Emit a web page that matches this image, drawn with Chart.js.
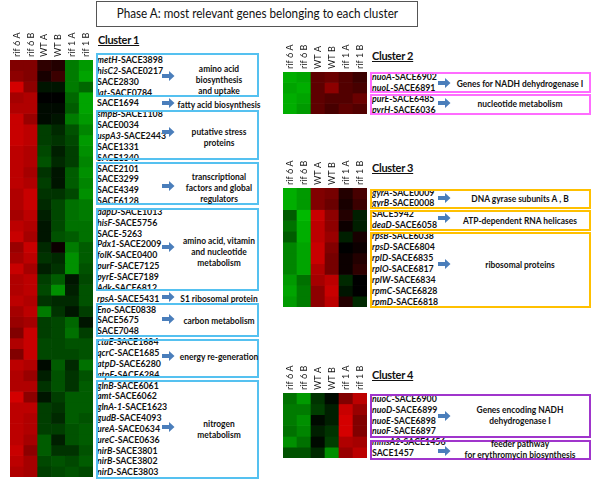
<!DOCTYPE html>
<html>
<head>
<meta charset="utf-8">
<script src="https://cdn.jsdelivr.net/npm/chart.js@4.4.0/dist/chart.umd.min.js"></script>
<style>
  body { margin: 0; width: 600px; height: 485px; position: relative; background: #fff; overflow: hidden;
         font-family: Lato, 'Open Sans', sans-serif; color: #111; }
  canvas { position: absolute; }
  .title { position: absolute; left: 96px; top: 1px; width: 322px; height: 26px; box-sizing: border-box;
           border: 1.5px solid #555; font-size: 13px; text-align: center; line-height: 23px; }
  .title span { display: inline-block; transform: scaleX(0.9); }
  .clu { position: absolute; font-size: 11px; font-weight: 700; text-decoration: underline; letter-spacing: -0.3px;
         line-height: 12px; white-space: nowrap; }
  .box { position: absolute; box-sizing: border-box; border: 2px solid; }
  .gene { position: absolute; font-size: 10px; font-weight: 700; line-height: 11px; white-space: nowrap;
          transform: scaleX(0.88); transform-origin: 0 50%; }
  .cat { position: absolute; font-size: 10px; font-weight: 700; line-height: 11px; white-space: nowrap; text-align: center;
         transform: translate(-50%, -50%) scaleX(0.84); }
  .arrow { position: absolute; }
</style>
</head>
<body>
<div class="title"><span>Phase A: most relevant genes belonging to each cluster</span></div>
<canvas id="heat1" width="83" height="449" style="left:10px;top:28px"></canvas>
<canvas id="heat2" width="84" height="74" style="left:283px;top:40px"></canvas>
<canvas id="heat3" width="84" height="151" style="left:283px;top:156px"></canvas>
<canvas id="heat4" width="84" height="97" style="left:283px;top:361px"></canvas>
<div id="notes"></div>
<script>
// samples (heatmap columns)
const samples = ['rif 6 A', 'rif 6 B', 'WT A', 'WT B', 'rif 1 A', 'rif 1 B'];

// Cluster 1
const genes1 = ['metH-SACE3898', 'hisC2-SACE0217', 'SACE2830', 'lat-SACE0784', 'SACE1694',
  'smpB-SACE1108', 'SACE0034', 'uspA3-SACE2443', 'SACE1331', 'SACE1340',
  'SACE2101', 'SACE3299', 'SACE4349', 'SACE6128',
  'dapD-SACE1013', 'hisF-SACE5756', 'SACE-5263', 'Pdx1-SACE2009', 'folK-SACE0400', 'purF-SACE7125', 'pyrE-SACE7189', 'Adk-SACE6812',
  'rpsA-SACE5431', 'Eno-SACE0838', 'SACE5675', 'SACE7048',
  'ctaE-SACE1684', 'qcrC-SACE1685', 'atpD-SACE6280', 'atpF-SACE6284',
  'glnB-SACE6061', 'amt-SACE6062', 'glnA-1-SACE1623', 'gudB-SACE4093', 'ureA-SACE0634', 'ureC-SACE0636',
  'nirB-SACE3801', 'nirB-SACE3802', 'nirD-SACE3803'];
const values1 = [
  [0.55, 0.55, 0.2, 0.15, -0.6, -0.75],
  [0.6, 0.55, 0.1, 0.25, -0.6, -0.8],
  [0.9, 0.6, -0.1, -0.1, -0.6, -0.5],
  [0.7, 0.75, 0, 0, -0.5, -0.8],
  [0.75, 0.75, -0.05, -0.05, -0.45, -0.8],
  [0.85, 0.65, -0.05, -0.1, -0.6, -0.75],
  [0.85, 0.8, -0.3, -0.2, -0.4, -0.65],
  [0.85, 0.8, -0.3, -0.25, -0.35, -0.75],
  [0.8, 0.75, -0.35, -0.15, -0.3, -0.7],
  [0.8, 0.75, -0.4, -0.2, -0.3, -0.65],
  [0.8, 0.7, -0.25, -0.1, -0.45, -0.7],
  [0.8, 0.75, -0.3, -0.1, -0.45, -0.65],
  [0.75, 0.85, -0.25, -0.25, -0.35, -0.7],
  [0.75, 0.85, -0.2, -0.35, -0.55, -0.6],
  [0.7, 0.8, -0.15, -0.35, -0.55, -0.6],
  [0.8, 0.75, -0.1, -0.35, -0.55, -0.55],
  [0.85, 0.7, -0.1, -0.4, -0.45, -0.55],
  [0.65, 0.85, -0.2, 0.05, -0.6, -0.45],
  [0.7, 0.8, -0.25, -0.2, -0.7, -0.45],
  [0.85, 0.7, -0.15, -0.25, -0.7, -0.4],
  [0.75, 0.8, -0.3, -0.45, -0.1, -0.35],
  [0.75, 0.8, -0.35, -0.7, -0.15, -0.4],
  [0.8, 0.75, -0.25, -0.2, -0.2, -0.4],
  [0.7, 0.8, -0.6, -0.25, -0.1, -0.3],
  [0.65, 0.7, -0.3, -0.35, -0.5, -0.1],
  [0.55, 0.85, -0.3, -0.35, -0.55, -0.3],
  [0.75, 0.85, -0.35, -0.35, -0.4, -0.4],
  [0.55, 0.85, -0.35, -0.35, -0.35, -0.4],
  [0.8, 0.75, -0.05, -0.45, -0.2, -0.55],
  [0.75, 0.65, -0.15, -0.4, -0.25, -0.4],
  [0.75, 0.75, -0.25, -0.4, -0.25, -0.45],
  [0.9, 0.6, -0.1, -0.3, -0.45, -0.45],
  [0.8, 0.8, -0.3, -0.25, -0.45, -0.45],
  [0.8, 0.75, -0.3, -0.2, -0.45, -0.4],
  [0.8, 0.75, -0.3, -0.3, -0.4, -0.45],
  [0.8, 0.7, -0.45, -0.15, -0.4, -0.45],
  [0.85, 0.6, -0.45, -0.25, -0.25, -0.4],
  [0.8, 0.7, -0.35, -0.4, -0.35, -0.45],
  [0.75, 0.7, -0.3, -0.35, -0.4, -0.35]
];
const functions1 = [['amino acid', 'biosynthesis', 'and uptake'], ['fatty acid biosynthesis'], ['putative stress', 'proteins'],
  ['transcriptional', 'factors and  global', 'regulators'], ['amino acid,  vitamin', 'and nucleotide', 'metabolism'],
  ['S1 ribosomal protein'], ['carbon metabolism'], ['energy re-generation'], ['nitrogen', 'metabolism']];

// Cluster 2
const genes2 = ['nuoA-SACE6902', 'nuoL-SACE6891', 'purE-SACE6485', 'pyrH-SACE6036'];
const values2 = [
  [-0.85, -0.8, 0.4, 0.45, 0.35, 0.25],
  [-0.8, -0.85, 0.4, 0.6, 0.35, 0.3],
  [-0.85, -0.8, 0.4, 0.35, 0.35, 0.45],
  [-0.85, -0.75, 0.4, 0.3, 0.4, 0.35]
];
const functions2 = [['Genes for NADH dehydrogenase I'], ['nucleotide metabolism']];

// Cluster 3
const genes3 = ['gyrA-SACE0009', 'gyrB-SACE0008', 'SACE5942', 'deaD-SACE6058', 'rpsB-SACE6038', 'rpsD-SACE6804',
  'rplD-SACE6835', 'rplO-SACE6817', 'rplW-SACE6834', 'rpmC-SACE6828', 'rpmD-SACE6818'];
const values3 = [
  [-0.85, -0.75, 0.55, 0.5, 0.15, 0.3],
  [-0.85, -0.75, 0.55, 0.45, 0.1, 0.25],
  [-0.45, -0.9, 0.85, 0.6, 0.15, -0.15],
  [-0.55, -0.85, 0.8, 0.6, 0.05, -0.15],
  [-0.45, -0.85, 0.8, 0.65, -0.15, 0.1],
  [-0.65, -0.8, 0.85, 0.55, 0, 0.05],
  [-0.65, -0.8, 0.85, 0.5, 0.05, 0.15],
  [-0.65, -0.8, 0.75, 0.5, 0.05, 0.2],
  [-0.75, -0.55, 0.7, 0.8, -0.2, 0],
  [-0.8, -0.6, 0.6, 0.85, -0.1, 0],
  [-0.75, -0.6, 0.6, 0.8, 0.15, -0.2]
];
const functions3 = [['DNA gyrase subunits A , B'], ['ATP-dependent RNA helicases'], ['ribosomal proteins']];

// Cluster 4
const genes4 = ['nuoC-SACE6900', 'nuoD-SACE6899', 'nuoE-SACE6898', 'nuoF-SACE6897', 'mmsA2-SACE1456', 'SACE1457'];
const values4 = [
  [-0.55, -0.75, -0.25, -0.05, 0.55, 0.8],
  [-0.6, -0.6, -0.3, -0.15, 0.85, 0.65],
  [-0.6, -0.7, -0.05, -0.15, 0.9, 0.55],
  [-0.55, -0.65, -0.15, -0.25, 0.9, 0.55],
  [-0.7, -0.55, -0.05, -0.3, 0.75, 0.7],
  [-0.4, -0.4, -0.2, -0.7, 0.65, 0.8]
];
const functions4 = [['Genes encoding NADH', 'dehydrogenase I'], ['feeder pathway', 'for erythromycin biosynthesis']];

// page layout (pixels)
const LABEL_H = 32;
const layouts = [
  { name: 'Cluster 1', nameX: 98, nameY: 34, color: '#55c1f0', textX: 97, textY: 60.8, pitch: 10.85,
    boxX: 96, boxW: 163, arrowX: 162, catX: 219,
    groups: [[53, 97, 76, 79], [null, null, 102.7, 103.5], [109.5, 159.5, 131.7, 137], [162, 205, 186, 186.5],
             [207.5, 291, 247.3, 250.7], [null, null, 296.7, 298.3], [302.5, 336.5, 319.3, 320],
             [339, 378, 355.7, 355.7], [380, 478.5, 426.7, 428.7]] },
  { name: 'Cluster 2', nameX: 372, nameY: 50, color: '#ff6cff', textX: 372, textY: 77.3, pitch: 11.2,
    boxX: 370, boxW: 221, arrowX: 437.5, catX: 520,
    groups: [[72, 93, 82.7, 83.3], [94, 115, 103.3, 102.7]] },
  { name: 'Cluster 3', nameX: 372, nameY: 162, color: '#ffc000', textX: 372, textY: 193.3, pitch: 10.9,
    boxX: 370, boxW: 221, arrowX: 437.5, catX: 520,
    groups: [[188.5, 209, 198.3, 198.3], [210, 231, 218.3, 220], [232, 307.5, 264.3, 264]] },
  { name: 'Cluster 4', nameX: 372, nameY: 369, color: '#a035cc', textX: 372, textY: 400, pitch: 10.7,
    boxX: 370, boxW: 221, arrowX: 437.5, catX: 520,
    groups: [[393.5, 437.5, 415.7, 415], [439.5, 459.5, 451, 449]] }
];

function heatColor(v) {
  return v >= 0 ? `rgb(${Math.round(235 * v)},0,0)` : `rgb(0,${Math.round(-205 * v)},0)`;
}

// rotated sample names above each column, placed with the x scale
const columnLabels = {
  id: 'columnLabels',
  afterDraw(chart) {
    const { ctx, chartArea, scales } = chart;
    ctx.save();
    ctx.font = '9px Lato';
    ctx.fillStyle = '#111';
    ctx.textAlign = 'left';
    ctx.textBaseline = 'middle';
    samples.forEach((s, i) => {
      ctx.save();
      ctx.translate(scales.x.getPixelForValue(i), chartArea.top - 3);
      ctx.rotate(-Math.PI / 2);
      ctx.fillText(s, 0, 0);
      ctx.restore();
    });
    ctx.restore();
  }
};

function drawHeatmap(id, values) {
  new Chart(document.getElementById(id), {
    type: 'bar',
    data: {
      labels: samples,
      datasets: values.map((row, i) => ({
        label: 'row ' + i,
        data: row.map(() => 1),
        backgroundColor: row.map(heatColor),
        borderWidth: 0,
        barPercentage: 1,
        categoryPercentage: 1
      }))
    },
    options: {
      responsive: false,
      animation: false,
      events: [],
      layout: { padding: 0 },
      plugins: { legend: { display: false }, tooltip: { enabled: false } },
      scales: {
        x: {
          stacked: true,
          position: 'top',
          grid: { display: false, drawTicks: false },
          border: { display: false },
          ticks: { display: false },
          afterFit(s) { s.height = LABEL_H; s.paddingLeft = 0; s.paddingRight = 0; }
        },
        y: { stacked: true, display: false, reverse: true, min: 0, max: values.length }
      }
    },
    plugins: [columnLabels]
  });
}

const arrowSvg = (x, y, color) =>
  `<svg class="arrow" style="left:${x}px;top:${y - 5}px" width="13" height="10">
     <polygon points="0,3 7,3 7,0 12.5,5 7,10 7,7 0,7" fill="${color}"/></svg>`;

function addNotes(layout, genes, functions) {
  let html = `<div class="clu" style="left:${layout.nameX}px;top:${layout.nameY}px">${layout.name}</div>`;
  genes.forEach((g, i) => {
    const k = g.lastIndexOf('-SACE');
    const txt = k > 0 ? `<i>${g.slice(0, k)}</i>${g.slice(k)}` : g;
    const y = layout.textY + layout.pitch * i - 6.8;
    html += `<div class="gene" style="left:${layout.textX}px;top:${y}px">${txt}</div>`;
  });
  layout.groups.forEach((gr, i) => {
    const [top, bottom, arrowY, catY] = gr;
    if (top !== null) {
      html += `<div class="box" style="left:${layout.boxX}px;top:${top}px;width:${layout.boxW}px;height:${bottom - top}px;border-color:${layout.color}"></div>`;
    }
    html += arrowSvg(layout.arrowX, arrowY, '#4a7ebb');
    html += `<div class="cat" style="left:${layout.catX}px;top:${catY}px">${functions[i].join('<br>')}</div>`;
  });
  document.getElementById('notes').insertAdjacentHTML('beforeend', html);
}

drawHeatmap('heat1', values1);
drawHeatmap('heat2', values2);
drawHeatmap('heat3', values3);
drawHeatmap('heat4', values4);

addNotes(layouts[0], genes1, functions1);
addNotes(layouts[1], genes2, functions2);
addNotes(layouts[2], genes3, functions3);
addNotes(layouts[3], genes4, functions4);
</script>
</body>
</html>
